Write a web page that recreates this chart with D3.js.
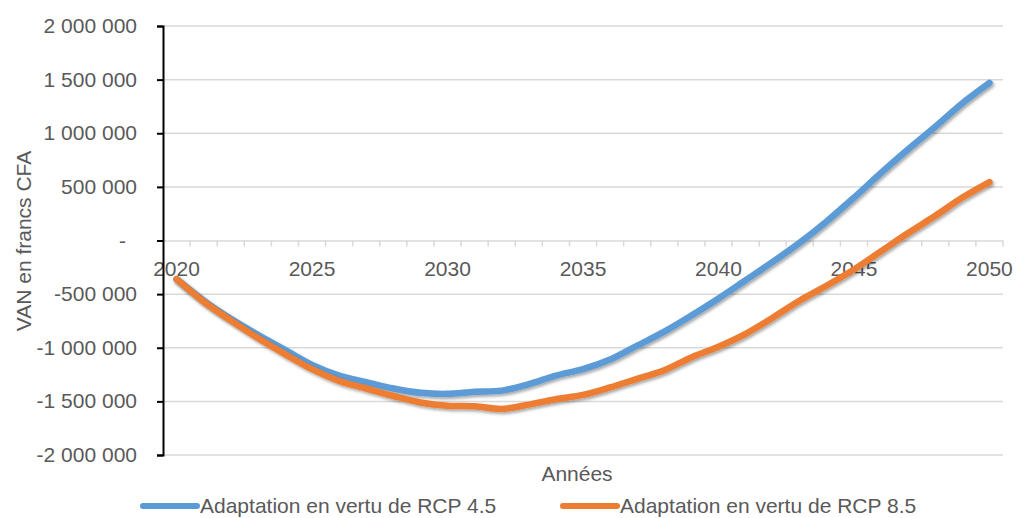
<!DOCTYPE html>
<html>
<head>
<meta charset="utf-8">
<script src="https://cdn.jsdelivr.net/npm/d3@7"></script>
<style>
  html, body { margin: 0; padding: 0; background: #fff; }
  svg { display: block; }
  text { font-family: "Liberation Sans", Arial, sans-serif; fill: #595959; }
</style>
</head>
<body>
<svg id="chart" width="1019" height="518"></svg>
<script>
const years = d3.range(2020, 2051);
const yearLabels = [2020, 2025, 2030, 2035, 2040, 2045, 2050];
const yTicks = [2000000, 1500000, 1000000, 500000, 0, -500000, -1000000, -1500000, -2000000];

const rcp45 = [-360000, -560000, -730000, -880000, -1020000, -1160000, -1260000, -1320000, -1380000, -1420000,
  -1430000, -1410000, -1400000, -1340000, -1260000, -1200000, -1110000, -980000, -850000, -700000,
  -540000, -370000, -200000, -20000, 180000, 400000, 630000, 850000, 1060000, 1280000, 1470000];
const rcp85 = [-360000, -570000, -745000, -910000, -1060000, -1200000, -1310000, -1380000, -1450000, -1510000,
  -1540000, -1545000, -1570000, -1530000, -1480000, -1440000, -1370000, -1290000, -1210000, -1090000,
  -990000, -870000, -720000, -560000, -420000, -270000, -100000, 70000, 230000, 400000, 545000];

const seriesNames = ["Adaptation en vertu de RCP 4.5", "Adaptation en vertu de RCP 8.5"];
const seriesColors = ["#5B9BD5", "#ED7D31"];
const seriesValues = [rcp45, rcp85];

const svg = d3.select("#chart");
const pLeft = 163, pRight = 1003, pTop = 26, pBottom = 455;

const x = d3.scaleBand().domain(years).range([pLeft, pRight]);
const y = d3.scaleLinear().domain([-2000000, 2000000]).range([pBottom, pTop]);
const cx = d => x(d) + x.bandwidth() / 2;

const loc = d3.formatLocale({decimal: ",", thousands: " ", grouping: [3], currency: ["", ""], minus: "-"});
const fmt = loc.format(",d");

// filter for shadow
const defs = svg.append("defs");
const f = defs.append("filter").attr("id", "shadow").attr("x", "-10%").attr("y", "-10%").attr("width", "120%").attr("height", "120%");
f.append("feDropShadow").attr("dx", 1.5).attr("dy", 2).attr("stdDeviation", 1.5).attr("flood-color", "#000").attr("flood-opacity", 0.35);

// gridlines
svg.append("g").selectAll("line").data(yTicks.filter(v => v !== 0)).join("line")
  .attr("x1", pLeft).attr("x2", pRight)
  .attr("y1", d => y(d)).attr("y2", d => y(d))
  .attr("stroke", "#d9d9d9").attr("stroke-width", 1.5);

// x axis at zero
const xAxis = d3.axisBottom(x).tickSize(0).tickFormat("");
const xg = svg.append("g").attr("transform", `translate(0,${y(0)})`).call(xAxis);
xg.select(".domain").attr("stroke", "#d9d9d9").attr("stroke-width", 1.5);
xg.append("g").selectAll("line").data(years).join("line")
  .attr("x1", d => x(d) + x.bandwidth()).attr("x2", d => x(d) + x.bandwidth())
  .attr("y1", 0).attr("y2", 6)
  .attr("stroke", "#d9d9d9").attr("stroke-width", 1.5);

// x labels
svg.append("g").selectAll("text").data(yearLabels).join("text")
  .attr("x", d => cx(d)).attr("y", 276)
  .attr("text-anchor", "middle")
  .style("font-size", "21px")
  .text(d => d);

// y axis
const yAxis = d3.axisLeft(y).tickValues(yTicks).tickSize(6).tickFormat("");
const yg = svg.append("g").attr("transform", `translate(${pLeft},0)`).call(yAxis);
yg.select(".domain").attr("stroke", "#000").attr("stroke-width", 2);
yg.selectAll(".tick line").attr("stroke", "#000").attr("stroke-width", 2);

svg.append("g").selectAll("text").data(yTicks).join("text")
  .attr("x", d => d === 0 ? 126 : 137)
  .attr("y", d => y(d) + 7)
  .attr("text-anchor", "end")
  .style("font-size", "21px")
  .text(d => d === 0 ? "-" : fmt(d));

// lines
const line = d3.line().x((d, i) => cx(years[i])).y(d => y(d)).curve(d3.curveCatmullRom.alpha(0.5));
seriesValues.forEach((vals, k) => {
  svg.append("path").datum(vals)
    .attr("d", line)
    .attr("fill", "none")
    .attr("stroke", seriesColors[k])
    .attr("stroke-width", 6.5)
    .attr("stroke-linecap", "round")
    .attr("stroke-linejoin", "round")
    .attr("filter", "url(#shadow)");
});

// axis titles
svg.append("text").attr("x", 577).attr("y", 481).attr("text-anchor", "middle")
  .style("font-size", "21px").text("Années");
svg.append("text").attr("transform", "translate(31,241) rotate(-90)").attr("text-anchor", "middle")
  .style("font-size", "21px").text("VAN en francs CFA");

// legend
const legendX = [143, 563];
seriesNames.forEach((name, k) => {
  const g = svg.append("g").attr("transform", `translate(${legendX[k]},506)`);
  g.append("line").attr("x1", 0).attr("x2", 54).attr("y1", 0).attr("y2", 0)
    .attr("stroke", seriesColors[k]).attr("stroke-width", 6).attr("stroke-linecap", "round");
  g.append("text").attr("x", 57).attr("y", 7).style("font-size", "21px").text(name);
});
</script>
</body>
</html>
